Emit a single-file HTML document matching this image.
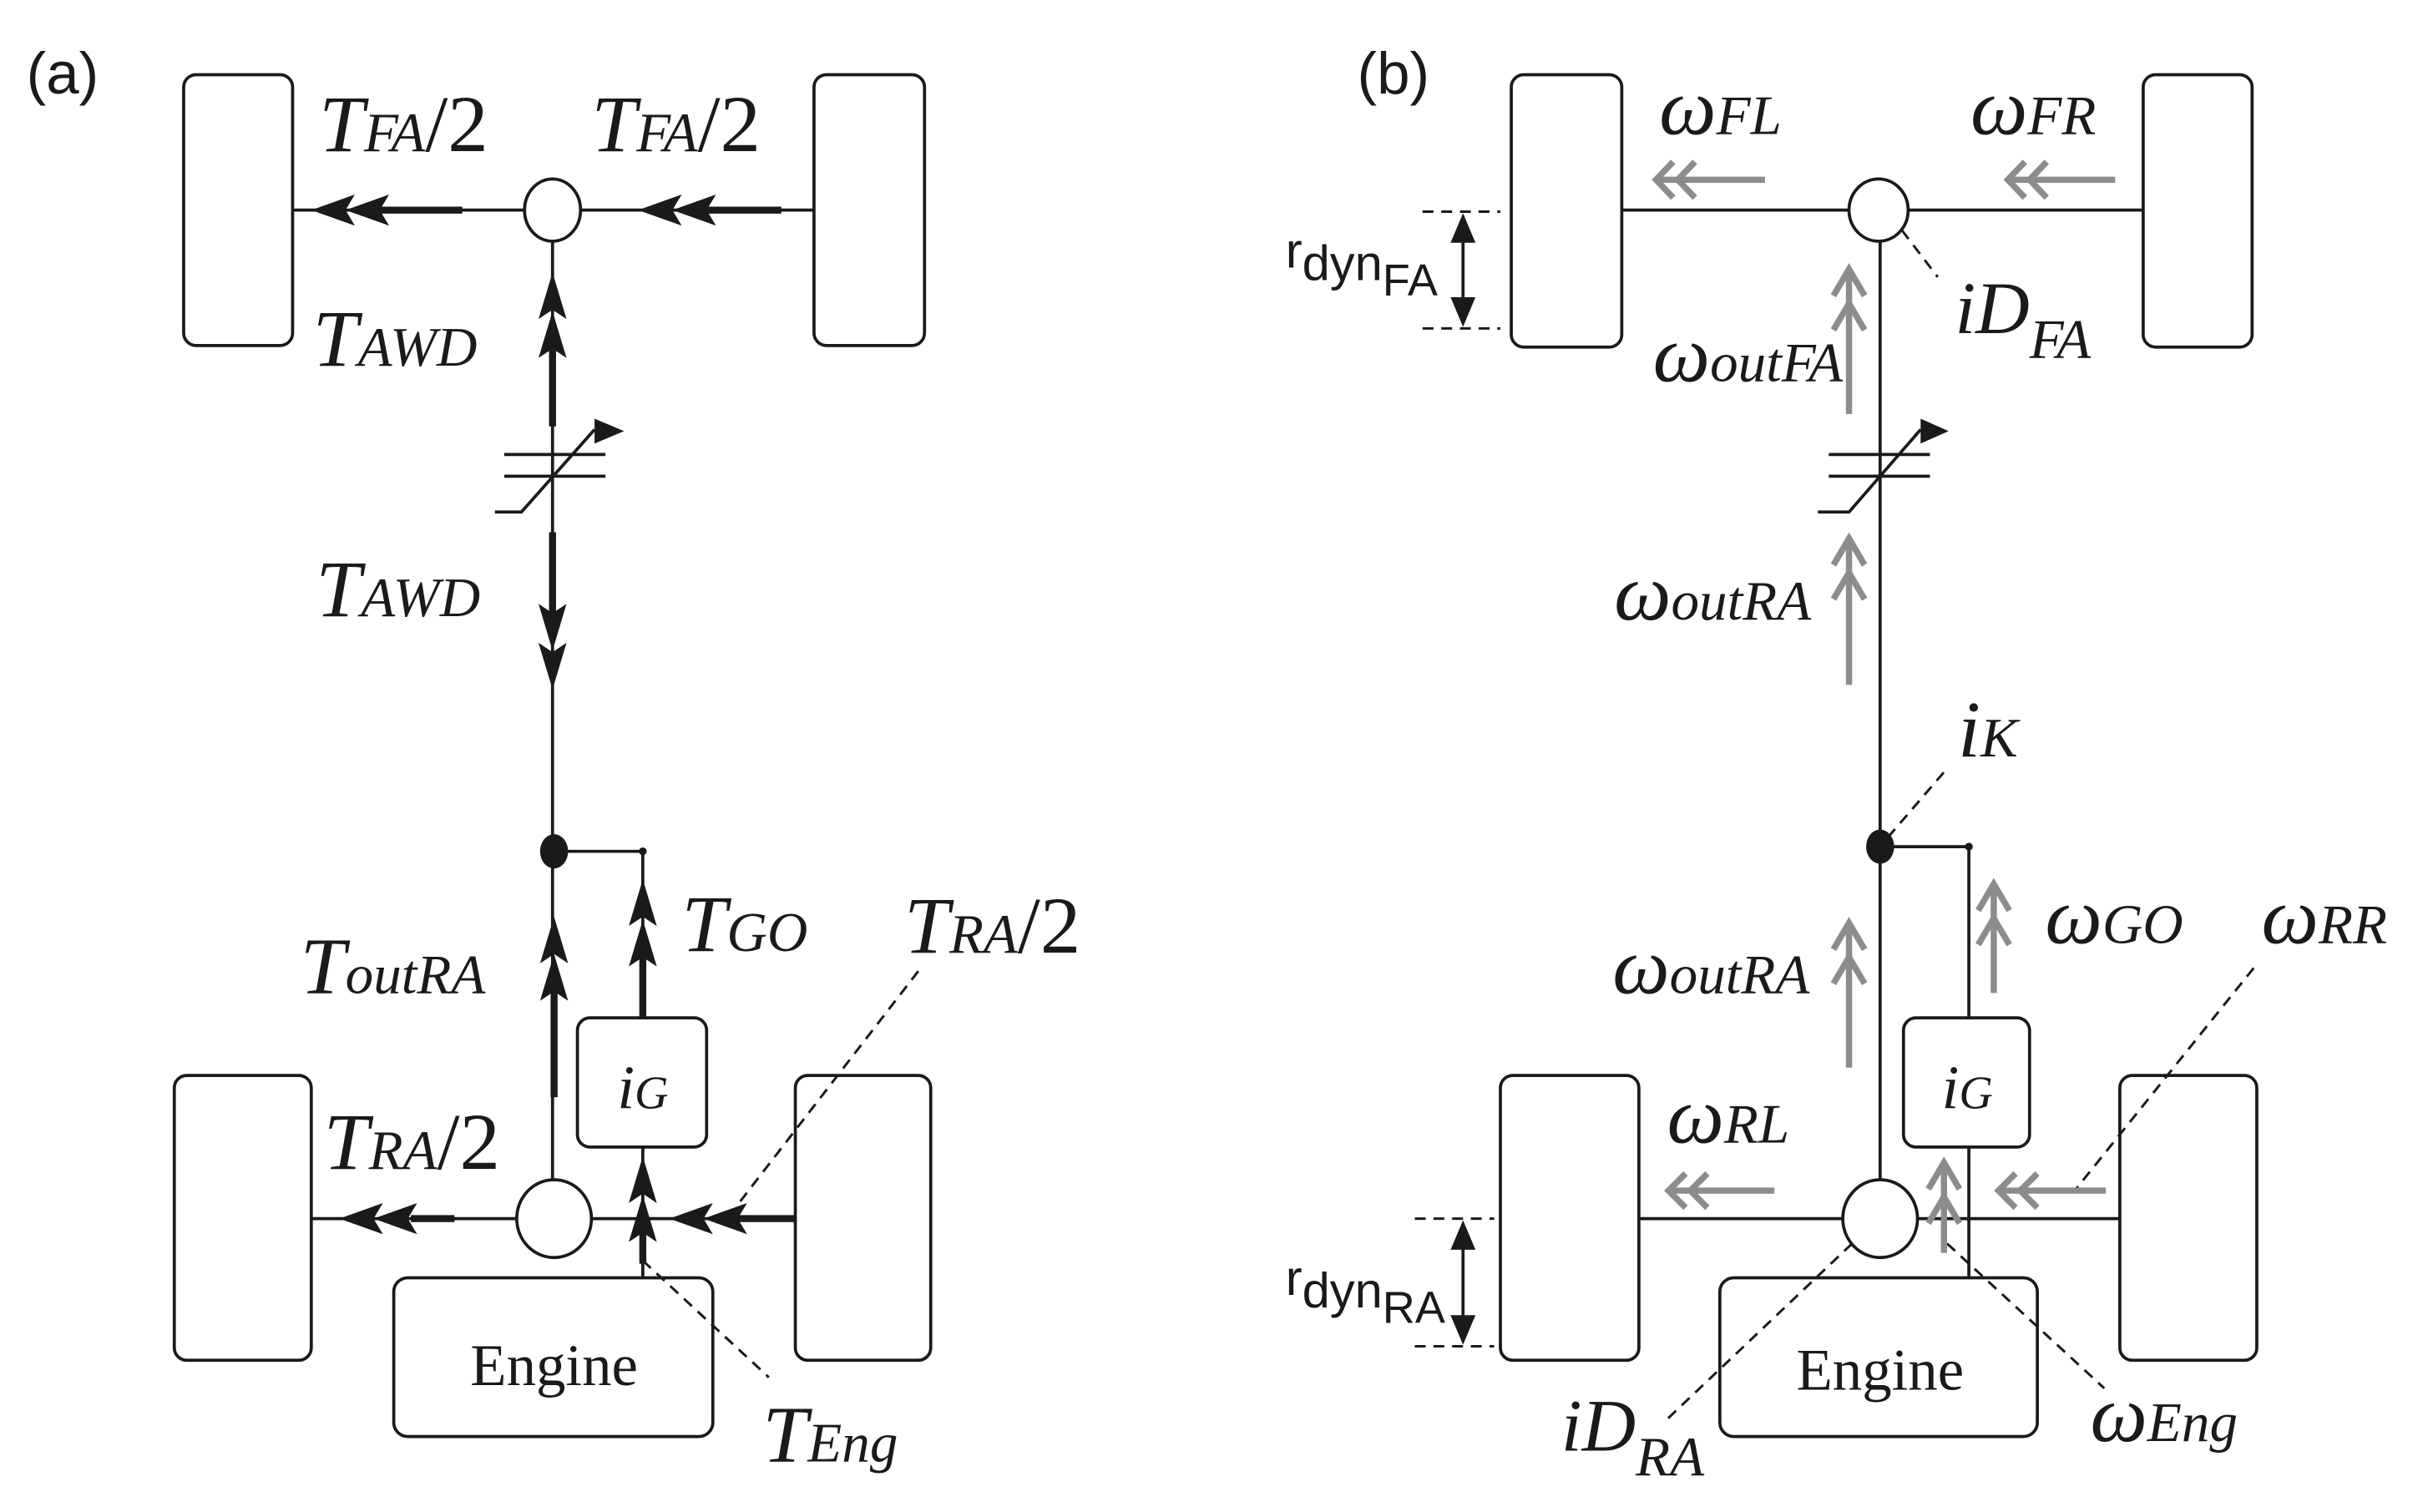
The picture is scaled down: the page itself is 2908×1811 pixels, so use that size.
<!DOCTYPE html>
<html><head><meta charset="utf-8"><style>
html,body{margin:0;padding:0;background:#fff}
svg{display:block}
.m{font-family:"Liberation Serif",serif;font-style:italic;fill:#1a1a1a}
.s{font-family:"Liberation Sans",sans-serif;fill:#1a1a1a}
</style></head><body>
<svg width="2908" height="1811" viewBox="0 0 1560 971.5" preserveAspectRatio="none" xmlns="http://www.w3.org/2000/svg">
<g fill="none" stroke="#1a1a1a" stroke-width="2">
<rect x="118" y="48" width="70" height="174" rx="8"/>
<rect x="523" y="48" width="71" height="174" rx="8"/>
<line x1="188" y1="135" x2="337" y2="135"/>
<line x1="373" y1="135" x2="523" y2="135"/>
<ellipse cx="355" cy="135" rx="18" ry="20"/>
<line x1="355" y1="155" x2="355" y2="759"/>
<ellipse cx="356" cy="783" rx="24" ry="25"/>
<rect x="112" y="691" width="88" height="183" rx="8"/>
<rect x="511" y="691" width="87" height="183" rx="8"/>
<line x1="200" y1="783" x2="332" y2="783"/>
<line x1="380" y1="783" x2="511" y2="783"/>
<line x1="356" y1="547" x2="413" y2="547"/>
<line x1="413" y1="547" x2="413" y2="654"/>
<rect x="371" y="654" width="83" height="83" rx="8"/>
<line x1="413" y1="737" x2="413" y2="821"/>
<rect x="253" y="821" width="205" height="102" rx="9"/>
<line x1="324" y1="292" x2="389" y2="292"/>
<line x1="324" y1="306" x2="389" y2="306"/>
<polyline points="318,329 335,329 382,276"/>
<g stroke-width="4.5">
<line x1="244" y1="135" x2="297" y2="135"/>
<line x1="454" y1="135" x2="502" y2="135"/>
<line x1="355" y1="225" x2="355" y2="274"/>
<line x1="355" y1="342" x2="355" y2="394"/>
<line x1="356" y1="636" x2="356" y2="705"/>
<line x1="413" y1="614" x2="413" y2="654"/>
<line x1="264" y1="783" x2="292" y2="783"/>
<line x1="474" y1="783" x2="511" y2="783"/>
<line x1="413" y1="792" x2="413" y2="812"/>
</g>
<g stroke-dasharray="7,5" stroke-width="1.6">
<line x1="590" y1="624" x2="474" y2="774"/>
<line x1="413" y1="810" x2="494" y2="885"/>
</g>

<rect x="971" y="48" width="71" height="175" rx="8"/>
<rect x="1377" y="48" width="70" height="175" rx="8"/>
<line x1="1042" y1="135" x2="1188" y2="135"/>
<line x1="1226" y1="135" x2="1377" y2="135"/>
<ellipse cx="1207" cy="135" rx="19" ry="20"/>
<line x1="1208" y1="155" x2="1208" y2="758"/>
<ellipse cx="1208" cy="783" rx="24" ry="25"/>
<rect x="964" y="691" width="89" height="183" rx="8"/>
<rect x="1362" y="691" width="88" height="183" rx="8"/>
<line x1="1053" y1="783" x2="1184" y2="783"/>
<line x1="1232" y1="783" x2="1362" y2="783"/>
<line x1="1208" y1="544" x2="1265" y2="544"/>
<line x1="1265" y1="544" x2="1265" y2="654"/>
<rect x="1223" y="654" width="81" height="83" rx="8"/>
<line x1="1265" y1="737" x2="1265" y2="821"/>
<rect x="1105" y="821" width="204" height="102" rx="9"/>
<line x1="1175" y1="292" x2="1240" y2="292"/>
<line x1="1175" y1="306" x2="1240" y2="306"/>
<polyline points="1168,329 1188,329 1234,276"/>
<line x1="940" y1="152" x2="940" y2="195"/>
<line x1="940" y1="800" x2="940" y2="848"/>
<g stroke-dasharray="7,5" stroke-width="1.6">
<line x1="914" y1="136" x2="964" y2="136"/>
<line x1="914" y1="211" x2="964" y2="211"/>
<line x1="909" y1="783" x2="960" y2="783"/>
<line x1="909" y1="865" x2="960" y2="865"/>
<line x1="1222" y1="148" x2="1245" y2="178"/>
<line x1="1213" y1="538" x2="1250" y2="495"/>
<line x1="1448" y1="622" x2="1333" y2="765"/>
<line x1="1190" y1="799" x2="1071" y2="912"/>
<line x1="1251" y1="799" x2="1352" y2="892"/>
</g>
<g stroke="#8c8c8c" stroke-width="4">
<line x1="1066" y1="115.5" x2="1134" y2="115.5"/>
<polyline points="1075,104 1064,115.5 1075,127"/><polyline points="1089,104 1078,115.5 1089,127"/>
<line x1="1292" y1="115.5" x2="1359" y2="115.5"/>
<polyline points="1301,104 1290,115.5 1301,127"/><polyline points="1315,104 1304,115.5 1315,127"/>
<line x1="1188" y1="175" x2="1188" y2="266"/>
<polyline points="1178,190 1188,173 1198,190"/><polyline points="1178,212 1188,195 1198,212"/>
<line x1="1188" y1="348" x2="1188" y2="440"/>
<polyline points="1178,363 1188,346 1198,363"/><polyline points="1178,385 1188,368 1198,385"/>
<line x1="1188" y1="595" x2="1188" y2="686"/>
<polyline points="1178,610 1188,593 1198,610"/><polyline points="1178,632 1188,615 1198,632"/>
<line x1="1281" y1="570" x2="1281" y2="638"/>
<polyline points="1271,585 1281,568 1291,585"/><polyline points="1271,607 1281,590 1291,607"/>
<line x1="1249" y1="749" x2="1249" y2="805"/>
<polyline points="1239,764 1249,747 1259,764"/><polyline points="1239,786 1249,769 1259,786"/>
<line x1="1074" y1="765" x2="1140" y2="765"/>
<polyline points="1083,754 1072,765 1083,776"/><polyline points="1097,754 1086,765 1097,776"/>
<line x1="1286" y1="765" x2="1353" y2="765"/>
<polyline points="1295,754 1284,765 1295,776"/><polyline points="1309,754 1298,765 1309,776"/>
</g>
</g>

<g fill="#1a1a1a">
<ellipse cx="356" cy="547" rx="9" ry="11"/>
<circle cx="413" cy="547" r="2.5"/>
<ellipse cx="1208" cy="544" rx="9" ry="11"/>
<circle cx="1265" cy="544" r="2.5"/>
<polygon points="382,269 401,277 382,285"/>
<polygon points="1234,269 1252,277 1234,285"/>
<polygon points="200,135 228,125 222,135 228,145"/><polygon points="222,135 250,125 244,135 250,145"/>
<polygon points="410,135 438,125 432,135 438,145"/><polygon points="432,135 460,125 454,135 460,145"/>
<polygon points="218,783 246,773 240,783 246,793"/><polygon points="240,783 268,773 262,783 268,793"/>
<polygon points="430,783 458,773 452,783 458,793"/><polygon points="452,783 480,773 474,783 480,793"/>
<polygon points="355,175 346,205 355,199 364,205"/><polygon points="355,200 346,230 355,224 364,230"/>
<polygon points="356,589 347,619 356,613 365,619"/><polygon points="356,613 347,643 356,637 365,643"/>
<polygon points="413,565 404,595 413,589 422,595"/><polygon points="413,591 404,621 413,615 422,621"/>
<polygon points="413,743 404,773 413,767 422,773"/><polygon points="413,768 404,798 413,792 422,798"/>
<polygon points="355,418 346,388 355,394 364,388"/><polygon points="355,443 346,413 355,419 364,413"/>
<polygon points="940,137 932,156 948,156"/><polygon points="940,210 932,191 948,191"/>
<polygon points="940,784 932,803 948,803"/><polygon points="940,864 932,845 948,845"/>
</g>

<text class="s" x="17" y="60" font-size="38">(a)</text>
<text class="s" x="872" y="60" font-size="38">(b)</text>
<g class="m" font-size="52">
<text x="205" y="97">T<tspan font-size="36">FA</tspan><tspan font-style="normal">/2</tspan></text>
<text x="380" y="97">T<tspan font-size="36">FA</tspan><tspan font-style="normal">/2</tspan></text>
<text x="201" y="235">T<tspan font-size="36">AWD</tspan></text>
<text x="203" y="396">T<tspan font-size="36">AWD</tspan></text>
<text x="193" y="638">T<tspan font-size="36">outRA</tspan></text>
<text x="438" y="611">T<tspan font-size="36">GO</tspan></text>
<text x="581" y="612">T<tspan font-size="36">RA</tspan><tspan font-style="normal">/2</tspan></text>
<text x="208" y="751">T<tspan font-size="36">RA</tspan><tspan font-style="normal">/2</tspan></text>
<text x="490" y="939">T<tspan font-size="36">Eng</tspan></text>
<text x="413" y="712" font-size="40" text-anchor="middle">i<tspan font-size="30">G</tspan></text>
<text x="1264" y="712" font-size="40" text-anchor="middle">i<tspan font-size="30">G</tspan></text>
<text x="1066" y="86">ω<tspan font-size="36">FL</tspan></text>
<text x="1266" y="86">ω<tspan font-size="36">FR</tspan></text>
<text x="1062" y="245">ω<tspan font-size="36">outFA</tspan></text>
<text x="1037" y="398">ω<tspan font-size="36">outRA</tspan></text>
<text x="1036" y="638">ω<tspan font-size="36">outRA</tspan></text>
<text x="1314" y="606">ω<tspan font-size="36">GO</tspan></text>
<text x="1453" y="606">ω<tspan font-size="36">RR</tspan></text>
<text x="1071" y="734">ω<tspan font-size="36">RL</tspan></text>
<text x="1343" y="926">ω<tspan font-size="36">Eng</tspan></text>
<text x="1256" y="214" font-size="48">iD<tspan font-size="36" dy="16">FA</tspan></text>
<text x="1258" y="486">i<tspan font-size="36">K</tspan></text>
<text x="1003" y="932" font-size="48">iD<tspan font-size="36" dy="16">RA</tspan></text>
</g>
<text x="356" y="890" font-family="Liberation Serif,serif" font-size="38" text-anchor="middle" fill="#1a1a1a">Engine</text>
<text x="1208" y="893" font-family="Liberation Serif,serif" font-size="38" text-anchor="middle" fill="#1a1a1a">Engine</text>
<text class="s" x="826" y="172" font-size="32">r<tspan dy="8">dyn</tspan><tspan dy="10" font-size="29">FA</tspan></text>
<text class="s" x="826" y="832" font-size="32">r<tspan dy="8">dyn</tspan><tspan dy="10" font-size="29">RA</tspan></text>
</svg>
</body></html>
